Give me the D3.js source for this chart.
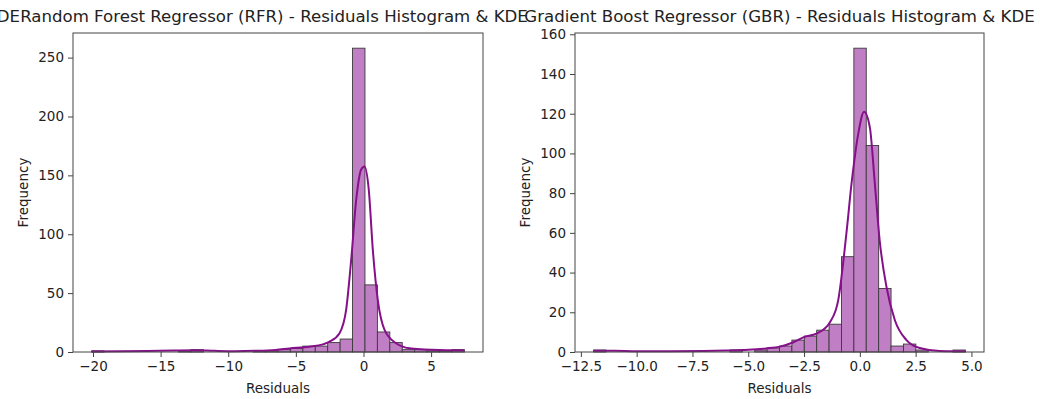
<!DOCTYPE html>
<html>
<head>
<meta charset="utf-8">
<script src="https://cdn.jsdelivr.net/npm/d3@7"></script>
<style>
  body { margin: 0; background: #fff; }
  svg text { font-family: "DejaVu Sans", sans-serif; fill: #222; }
</style>
</head>
<body>
<div id="chart"></div>
<script>
// Random Forest residuals: 30 bins between these edges
const rfrRange = [-20.1, 7.46];
const rfrCounts = [1, 0, 0, 0, 0, 0, 0, 1, 2, 0, 0, 0, 0, 1, 1, 2, 3, 5, 5, 8, 11, 258, 57, 17, 8, 2, 2, 1, 1, 2];
const rfrKdeX = [-20.1, -18, -16, -14, -12.5, -11, -9.5, -8, -6.5, -5.47, -4, -3, -2.51, -1.77, -1.28, -0.91, -0.54, -0.17, 0.07, 0.39, 0.69, 1.06, 1.55, 2.41, 3.4, 4.5, 5.6, 6.5, 7.46];
const rfrKdeY = [0.4, 0.6, 0.9, 1.3, 1.5, 1.0, 0.7, 1.0, 1.8, 3, 4.5, 6.5, 8.8, 16, 36, 78, 129, 155, 157.6, 138, 87, 44, 19, 7.4, 3.1, 2.2, 1.7, 1.5, 1.2];
const rfrXTicks = [-20, -15, -10, -5, 0, 5];
const rfrYTicks = [0, 50, 100, 150, 200, 250];

// Gradient Boost residuals
const gbrRange = [-11.93, 4.73];
const gbrCounts = [1, 0, 0, 0, 0, 0, 0, 0, 0, 0, 0, 1, 0, 1, 2, 3, 6, 8, 11, 14, 48, 153, 104, 32, 3, 4, 1, 0, 0, 1];
const gbrKdeX = [-11.93, -11, -10, -8.5, -7, -6, -5, -4.2, -3.58, -3, -2.46, -1.91, -1.34, -0.97, -0.6, -0.37, -0.07, 0.19, 0.45, 0.67, 0.89, 1.19, 1.57, 2.09, 2.68, 3.58, 4.2, 4.73];
const gbrKdeY = [0.6, 0.6, 0.4, 0.4, 0.5, 0.7, 1.1, 1.8, 2.7, 4.8, 7.7, 9.4, 15, 26, 60, 85, 110, 121, 113, 85, 56, 33, 16, 6, 2, 0.5, 0.4, 0.4];
const gbrXTicks = [-12.5, -10, -7.5, -5, -2.5, 0, 2.5, 5];
const gbrYTicks = [0, 20, 40, 60, 80, 100, 120, 140, 160];

const W = 1040, H = 399;
const svg = d3.select("#chart").append("svg").attr("width", W).attr("height", H);

function drawPanel(opts) {
  const left = opts.left, right = opts.right, top = 33, bottom = 352;
  const n = opts.counts.length;
  const binW = (opts.range[1] - opts.range[0]) / n;
  const pad = (opts.range[1] - opts.range[0]) * 0.05;

  const x = d3.scaleLinear().domain([opts.range[0] - pad, opts.range[1] + pad]).range([left, right]);
  const y = d3.scaleLinear().domain([0, d3.max(opts.counts) * 1.05]).range([bottom, top]);

  const bins = opts.counts.map(function (c, i) {
    return { x0: opts.range[0] + i * binW, x1: opts.range[0] + (i + 1) * binW, n: c };
  });

  const g = svg.append("g");

  g.selectAll(".bar")
    .data(bins)
    .enter()
    .append("rect")
    .attr("class", "bar")
    .attr("x", function (d) { return x(d.x0); })
    .attr("width", function (d) { return x(d.x1) - x(d.x0); })
    .attr("y", function (d) { return y(d.n); })
    .attr("height", function (d) { return y(0) - y(d.n); })
    .attr("fill", "#c07fc4")
    .attr("stroke", "#3a3a3a")
    .attr("stroke-width", 0.9);

  const pts = opts.kdeX.map(function (v, i) { return [v, opts.kdeY[i]]; });
  const line = d3.line()
    .x(function (d) { return x(d[0]); })
    .y(function (d) { return y(d[1]); })
    .curve(d3.curveMonotoneX);

  g.append("path")
    .datum(pts)
    .attr("d", line)
    .attr("fill", "none")
    .attr("stroke", "#85108a")
    .attr("stroke-width", 2);

  // frame
  g.append("rect")
    .attr("x", left).attr("y", top)
    .attr("width", right - left).attr("height", bottom - top)
    .attr("fill", "none").attr("stroke", "#444").attr("stroke-width", 1);

  const xAxis = d3.axisBottom(x).tickValues(opts.xTicks).tickSize(5).tickPadding(4)
    .tickFormat(opts.xFmt);
  g.append("g")
    .attr("transform", "translate(0," + bottom + ")")
    .call(xAxis)
    .call(function (a) { a.select(".domain").remove(); })
    .call(function (a) {
      a.selectAll("line").attr("stroke", "#444");
      a.selectAll("text").style("font-size", "13.5px").style("font-family", "DejaVu Sans").attr("fill", "#222");
    });

  const yAxis = d3.axisLeft(y).tickValues(opts.yTicks).tickSize(5).tickPadding(4)
    .tickFormat(d3.format("d"));
  g.append("g")
    .attr("transform", "translate(" + left + ",0)")
    .call(yAxis)
    .call(function (a) { a.select(".domain").remove(); })
    .call(function (a) {
      a.selectAll("line").attr("stroke", "#444");
      a.selectAll("text").style("font-size", "13.5px").style("font-family", "DejaVu Sans").attr("fill", "#222");
    });

  g.append("text")
    .attr("x", (left + right) / 2)
    .attr("y", 393)
    .attr("text-anchor", "middle")
    .style("font-size", "13.5px")
    .text("Residuals");

  g.append("text")
    .attr("transform", "translate(" + (left - 45) + "," + (top + bottom) / 2 + ") rotate(-90)")
    .attr("text-anchor", "middle")
    .style("font-size", "13.5px")
    .text("Frequency");

  g.append("text")
    .attr("x", (left + right) / 2 + opts.titleShift)
    .attr("y", 22)
    .attr("text-anchor", "middle")
    .style("font-size", "16.6px")
    .text(opts.title);
}

// tail of the neighbouring panel's title, cut by the left edge
svg.append("text")
  .attr("x", 20).attr("y", 22)
  .attr("text-anchor", "end")
  .style("font-size", "16.6px")
  .text("KDE");

drawPanel({
  left: 73, right: 483,
  range: rfrRange, counts: rfrCounts,
  kdeX: rfrKdeX, kdeY: rfrKdeY,
  xTicks: rfrXTicks, yTicks: rfrYTicks,
  xFmt: d3.format("d"),
  title: "Random Forest Regressor (RFR) - Residuals Histogram & KDE",
  titleShift: -4
});

drawPanel({
  left: 575, right: 984,
  range: gbrRange, counts: gbrCounts,
  kdeX: gbrKdeX, kdeY: gbrKdeY,
  xTicks: gbrXTicks, yTicks: gbrYTicks,
  xFmt: d3.format(".1f"),
  title: "Gradient Boost Regressor (GBR) - Residuals Histogram & KDE",
  titleShift: 0
});
</script>
</body>
</html>
